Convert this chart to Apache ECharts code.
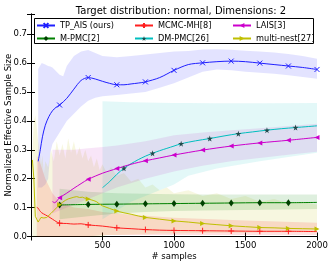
<!DOCTYPE html>
<html><head><meta charset="utf-8">
<script src="https://cdn.jsdelivr.net/npm/echarts@6/dist/echarts.min.js"></script>
<style>html,body{margin:0;padding:0;background:#fff}#c{width:332px;height:263px}</style>
</head><body><div id="c"></div>
<script>
// ---- data ----
const titleText = 'Target distribution: normal, Dimensions: 2';
const xTickLabels = [500, 1000, 1500, 2000];
const yTickLabels = [0.0, 0.1, 0.2, 0.3, 0.4, 0.5, 0.6, 0.7];

// TP_AIS (ours)
const tpX = [50,65,80,100,125,150,175,200,250,300,350,400,450,500,550,600,650,700,750,800,900,1000,1100,1200,1300,1400,1500,1600,1700,1800,1900,2000];
const tpY = [0.26,0.30,0.345,0.385,0.415,0.435,0.447,0.455,0.478,0.51,0.54,0.55,0.545,0.537,0.53,0.525,0.525,0.528,0.531,0.535,0.55,0.575,0.595,0.601,0.605,0.607,0.605,0.60,0.595,0.59,0.585,0.578];
const tpBandX = [50,75,100,120,135,150,200,225,250,300,350,400,450,500,600,700,800,900,1000,1100,1200,1300,1400,1500,1600,1700,1800,1900,2000];
const tpLo = [0.17,0.17,0.18,0.20,0.29,0.32,0.36,0.38,0.40,0.425,0.45,0.47,0.48,0.485,0.49,0.495,0.50,0.515,0.53,0.55,0.57,0.578,0.575,0.57,0.567,0.563,0.558,0.552,0.546];
const tpHi = [0.58,0.60,0.595,0.59,0.588,0.585,0.56,0.555,0.59,0.625,0.64,0.645,0.635,0.625,0.62,0.625,0.63,0.635,0.64,0.642,0.647,0.648,0.646,0.643,0.64,0.637,0.632,0.625,0.615];

// M-PMC[2]
const mpX = [200,400,600,800,1000,1200,1400,1600,1800,2000];
const mpY = [0.109,0.111,0.112,0.113,0.114,0.115,0.116,0.117,0.117,0.118];
const mpBandX = [200,300,400,600,800,1000,1200,1500,2000];
const mpLo = [0.06,0.065,0.07,0.08,0.085,0.088,0.09,0.092,0.095];
const mpHi = [0.165,0.16,0.155,0.15,0.148,0.146,0.145,0.145,0.145];

// MCMC-MH[8]
const mhX = [40,50,60,75,100,125,150,175,200,250,300,350,400,450,500,550,600,700,800,900,1000,1200,1400,1600,1800,2000];
const mhY = [0.101,0.098,0.09,0.082,0.075,0.068,0.06,0.052,0.046,0.045,0.043,0.044,0.04,0.038,0.036,0.033,0.03,0.027,0.024,0.022,0.021,0.02,0.019,0.018,0.018,0.017];
const mhBandX = [40,60,100,150,200,300,400,500,700,1000,1500,2000];
const mhLo = [0,0,0,0,0,0,0,0.005,0.005,0.005,0.005,0.005];
const mhHi = [0.28,0.26,0.2,0.15,0.12,0.10,0.095,0.085,0.075,0.065,0.055,0.048];

// DM-PMC[26]
const dmX = [500,550,600,650,700,750,800,850,900,950,1000,1050,1150,1250,1350,1450,1550,1650,1750,1850,2000];
const dmY = [0.169,0.19,0.215,0.236,0.252,0.266,0.278,0.288,0.297,0.305,0.313,0.321,0.331,0.339,0.348,0.356,0.362,0.368,0.373,0.377,0.383];
const dmBandX = [500,700,900,1000,1100,1300,1600,2000];
const dmLo = [0.06,0.12,0.16,0.18,0.21,0.235,0.26,0.29];
const dmHi = [0.468,0.465,0.463,0.462,0.462,0.461,0.461,0.462];

// LAIS[3]
const laX = [150,165,200,250,300,350,400,500,600,700,800,900,1000,1200,1400,1600,1800,2000];
const laY = [0.121,0.117,0.134,0.15,0.167,0.183,0.198,0.219,0.235,0.25,0.262,0.272,0.282,0.299,0.313,0.324,0.333,0.343];
const laBandX = [150,200,300,400,500,600,800,1000,1200,1400,1600,1800,2000];
const laLo = [0.08,0.09,0.11,0.13,0.15,0.17,0.20,0.225,0.245,0.26,0.272,0.283,0.293];
const laHi = [0.30,0.30,0.30,0.305,0.31,0.315,0.33,0.35,0.36,0.368,0.375,0.382,0.39];

// multi-nest[27]
const mnX = [10,20,30,40,50,60,70,80,90,100,110,120,140,160,180,200,220,240,260,280,300,320,340,360,380,400,420,440,460,480,500,550,600,650,700,750,800,900,1000,1100,1200,1300,1400,1500,1600,1700,1800,1900,2000];
const mnY = [0.265,0.2,0.07,0.06,0.05,0.058,0.066,0.06,0.064,0.07,0.066,0.072,0.08,0.09,0.1,0.11,0.118,0.125,0.13,0.133,0.136,0.138,0.135,0.136,0.132,0.13,0.127,0.124,0.12,0.112,0.106,0.097,0.088,0.082,0.077,0.071,0.066,0.06,0.054,0.05,0.045,0.041,0.037,0.034,0.031,0.03,0.028,0.027,0.026];
const mnBandX = [10,20,30,40,50,60,70,80,90,100,120,140,160,180,200,220,240,260,280,300,320,340,360,380,400,420,440,460,480,500,530,560,600,650,700,750,800,850,900,950,1000,1100,1200,1300,1400,1500,1600,1700,1800,1900,2000];
const mnLo = [0,0,0,0,0,0,0,0,0,0,0,0,0,0,0,0,0,0,0,0,0,0,0,0,0,0,0,0,0,0,0.005,0.005,0.005,0.006,0.007,0.008,0.008,0.009,0.01,0.01,0.01,0.011,0.012,0.012,0.013,0.013,0.014,0.014,0.015,0.015,0.015];
const mnHi = [0.3,0.4,0.42,0.38,0.33,0.3,0.25,0.28,0.22,0.26,0.24,0.3,0.26,0.33,0.28,0.32,0.27,0.34,0.29,0.33,0.28,0.31,0.27,0.3,0.26,0.28,0.24,0.27,0.23,0.25,0.22,0.24,0.21,0.22,0.19,0.2,0.17,0.18,0.16,0.17,0.15,0.16,0.14,0.15,0.13,0.14,0.12,0.13,0.115,0.12,0.11];

const markers200 = [200,400,600,800,1000,1200,1400,1600,1800,2000];
const markers200to1800 = [200,400,600,800,1000,1200,1400,1600,1800];
const dmMarkers = [650,850,1050,1250,1450,1650,1850];

// ---- chart ----
const FONT = 'DejaVu Sans';
const chart = echarts.init(document.getElementById('c'), null, {renderer:'canvas'});

function lineData(xs, ys, marks) {
  return xs.map((x, i) => marks.includes(x) ? {value:[x, ys[i]]} : {value:[x, ys[i]], symbol:'none'});
}
function band(xs, lo, hi, fill) {
  return {
    type:'custom', silent:true, z:1, data:[[xs[0], lo[0]]],
    renderItem: (params, api) => {
      const pts = [];
      for (let i = 0; i < xs.length; i++) pts.push(api.coord([xs[i], hi[i]]));
      for (let i = xs.length - 1; i >= 0; i--) pts.push(api.coord([xs[i], lo[i]]));
      return {type:'polygon', shape:{points:pts}, style:{fill:fill}};
    }
  };
}
function line(name, xs, ys, marks, color, symbol, size, itemStyle, extra) {
  return Object.assign({
    name, type:'line', data: lineData(xs, ys, marks), smooth:0.3, z:3,
    symbol, symbolSize:size, showSymbol:true, showAllSymbol:true,
    lineStyle:{color, width:1}, itemStyle: Object.assign({color}, itemStyle || {}),
    emphasis:{disabled:true}, animation:false
  }, extra || {});
}

const xPath = 'path://M0,0L10,10M10,0L0,10';
const plusPath = 'path://M5,0L5,10M0,5L10,5';
const starPath = 'path://M50,0L61,35L98,35L68,57L79,91L50,70L21,91L32,57L2,35L39,35Z';

const legendText = {fontFamily:FONT, fontSize:8.2, color:'#000'};
function legend(left, names) {
  return {orient:'vertical', left, top:21.5, itemWidth:18, itemHeight:6, itemGap:5,
    textStyle:legendText, data:names, selectedMode:false, padding:0, z:11};
}

const option = {
  animation:false,
  backgroundColor:'#fff',
  title:{text:titleText, left:176, top:1, textAlign:'center',
    textStyle:{fontFamily:FONT, fontSize:10, fontWeight:'normal', color:'#000'}},
  grid:{left:31, right:15, top:14, bottom:26.5, containLabel:false, outerBoundsMode:'none'},
  graphic:[{type:'rect', shape:{x:34.5, y:18.5, width:279, height:25}, style:{fill:'#fff', stroke:'#000', lineWidth:1}, z:10}],
  legend:[
    legend(36, ['TP_AIS (ours)','M-PMC[2]']),
    legend(134, ['MCMC-MH[8]','DM-PMC[26]']),
    legend(232, ['LAIS[3]','multi-nest[27]'])
  ],
  xAxis:[
    {type:'value', min:0, max:2000, interval:500, position:'bottom',
     axisLine:{lineStyle:{color:'#000', width:1}},
     axisTick:{inside:true, length:4, lineStyle:{color:'#000'}},
     axisLabel:{fontFamily:FONT, fontSize:8.5, color:'#000', margin:5,
       formatter:v => xTickLabels.includes(v) ? String(v) : ''},
     splitLine:{show:false},
     name:'# samples', nameLocation:'middle', nameGap:15.5, nameMoveOverlap:false,
     nameTextStyle:{fontFamily:FONT, fontSize:8.5, color:'#000'}},
    {type:'value', min:0, max:2000, interval:500, position:'top',
     axisLine:{lineStyle:{color:'#000', width:1}},
     axisTick:{inside:true, length:4, lineStyle:{color:'#000'}},
     axisLabel:{show:false}, splitLine:{show:false}}
  ],
  yAxis:[
    {type:'value', min:0, max:0.77, interval:0.1, position:'left',
     axisLine:{show:true, lineStyle:{color:'#000', width:1}},
     axisTick:{show:true, inside:true, length:4, lineStyle:{color:'#000'}},
     axisLabel:{fontFamily:FONT, fontSize:8.5, color:'#000', margin:4,
       formatter:v => { const f = yTickLabels.find(t => Math.abs(t - v) < 1e-6); return f === undefined ? '' : f.toFixed(1); }},
     splitLine:{show:false},
     name:'Normalized Effective Sample Size', nameLocation:'middle', nameGap:18, nameMoveOverlap:false,
     nameTextStyle:{fontFamily:FONT, fontSize:8.5, color:'#000'}},
    {type:'value', min:0, max:0.77, interval:0.1, position:'right',
     axisLine:{show:true, lineStyle:{color:'#000', width:1}},
     axisTick:{show:true, inside:true, length:4, lineStyle:{color:'#000'}},
     axisLabel:{show:false}, splitLine:{show:false}}
  ],
  series:[
    band(tpBandX, tpLo, tpHi, 'rgba(0,0,255,0.11)'),
    band(mnBandX, mnLo, mnHi, 'rgba(191,191,0,0.12)'),
    band(mhBandX, mhLo, mhHi, 'rgba(255,0,0,0.12)'),
    band(mpBandX, mpLo, mpHi, 'rgba(0,128,0,0.13)'),
    band(dmBandX, dmLo, dmHi, 'rgba(0,191,191,0.11)'),
    band(laBandX, laLo, laHi, 'rgba(191,0,191,0.10)'),
    line('TP_AIS (ours)', tpX, tpY, markers200, '#2020ff', xPath, 5, {borderColor:'#2020ff', borderWidth:1}),
    line('M-PMC[2]', mpX, mpY, markers200to1800, '#008000', 'diamond', [5,7], {color:'#004000'}),
    line('MCMC-MH[8]', mhX, mhY, markers200to1800, '#ff2020', plusPath, 6, {borderColor:'#ff2020', borderWidth:1}),
    line('DM-PMC[26]', dmX, dmY, dmMarkers, '#00bfbf', starPath, 6, {color:'#1f4a4a'}),
    line('LAIS[3]', laX, laY, markers200, '#cc00cc', 'triangle', 5, {color:'#cc00cc'}, {symbolRotate:90}),
    line('multi-nest[27]', mnX, mnY, markers200, '#bfbf00', 'triangle', 5, {color:'#bfbf00'}, {symbolRotate:-90, smooth:false})
  ]
};
chart.setOption(option);
</script>
</body></html>
